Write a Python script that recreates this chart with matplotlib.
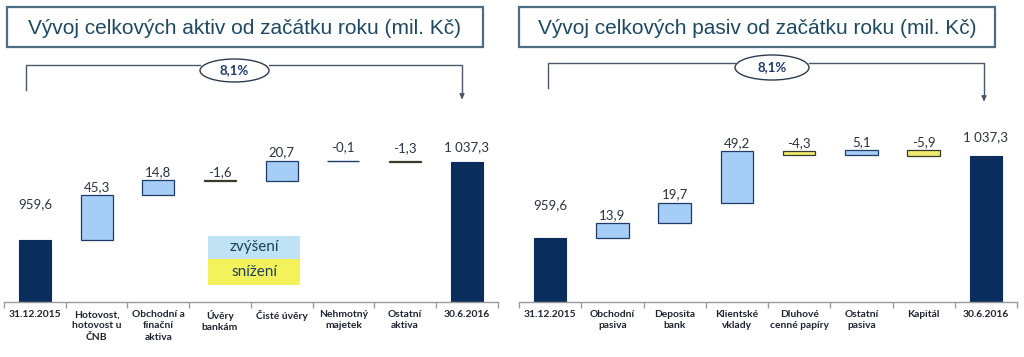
import matplotlib
matplotlib.use("Agg")
import matplotlib.pyplot as plt
from matplotlib.patches import Rectangle, Ellipse

# ---------------- data ----------------
aktiva_labels = ["31.12.2015", "Hotovost,\nhotovost u\nČNB", "Obchodní a\nfinační\naktiva",
                 "Úvěry\nbankám", "Čisté úvěry", "Nehmotný\nmajetek", "Ostatní\naktiva", "30.6.2016"]
aktiva_start = 959.6
aktiva_deltas = [45.3, 14.8, -1.6, 20.7, -0.1, -1.3]
aktiva_end = 1037.3

pasiva_labels = ["31.12.2015", "Obchodní\npasiva", "Deposita\nbank", "Klientské\nvklady",
                 "Dluhové\ncenné papíry", "Ostatní\npasiva", "Kapitál", "30.6.2016"]
pasiva_start = 959.6
pasiva_deltas = [13.9, 19.7, 49.2, -4.3, 5.1, -5.9]
pasiva_end = 1037.3

titles = ["Vývoj celkových aktiv od začátku roku (mil. Kč)",
          "Vývoj celkových pasiv od začátku roku (mil. Kč)"]
growth_label = "8,1%"
legend_labels = ["zvýšení", "snížení"]

# ---------------- style ----------------
NAVY = "#0b2d5e"
BLUE = "#a6cdf5"
YELLOW = "#ecec6e"
EDGE = "#1f3a66"
TXT = "#2a3340"
TITLE_C = "#1d4a62"
W, H = 1024, 357
TICK_FONT = ["Lato", "DejaVu Sans"]

fig = plt.figure(figsize=(W / 100, H / 100), dpi=100)


def fmt(v):
    s = f"{abs(v):,.1f}".replace(",", " ").replace(".", ",")
    return ("-" if v < 0 else "") + s


def px_axes(x0, x1, y_top, y_bot):
    return fig.add_axes([x0 / W, (H - y_bot) / H, (x1 - x0) / W, (y_bot - y_top) / H])


def waterfall(ax, labels, start, deltas, end, ylim, end_offsets):
    n = len(labels)
    xs = list(range(n))
    ax.bar(xs[0], start, width=0.52, color=NAVY, edgecolor=NAVY, linewidth=0.8)
    ax.bar(xs[-1], end, width=0.52, color=NAVY, edgecolor=NAVY, linewidth=0.8)
    cum = start
    for i, d in enumerate(deltas, start=1):
        bottom = cum if d >= 0 else cum + d
        small = abs(d) < 1.0
        ax.bar(i, abs(d), bottom=bottom, width=0.52,
               color=BLUE if d >= 0 else YELLOW,
               edgecolor=EDGE if small else ("#1f3a66" if d >= 0 else "#3a3a2a"),
               linewidth=1.0 if small else 0.9)
        top = bottom + abs(d)
        off = 8 if abs(d) > 1.5 else 13
        ax.annotate(fmt(d), (i, top), xytext=(0, off * 0.72), textcoords="offset points",
                    ha="center", va="center", fontsize=9.5, color=TXT, family=TICK_FONT)
        cum += d
    ax.annotate(fmt(start), (0, start), xytext=(0, end_offsets[0] * 0.72), textcoords="offset points",
                ha="center", va="center", fontsize=9.5, color=TXT, family=TICK_FONT)
    ax.annotate(fmt(end), (n - 1, end), xytext=(0, end_offsets[1] * 0.72), textcoords="offset points",
                ha="center", va="center", fontsize=9.5, color=TXT, family=TICK_FONT)
    ax.set_xlim(-0.5, n - 0.5)
    ax.set_ylim(*ylim)
    for s in ["left", "right", "top"]:
        ax.spines[s].set_visible(False)
    ax.spines["bottom"].set_color("#9a9a9a")
    ax.spines["bottom"].set_linewidth(1.0)
    ax.set_yticks([])
    ax.set_xticks(xs)
    ax.set_xticklabels(labels, fontsize=7.4, fontweight="bold", color="#1e2430",
                       family=TICK_FONT, linespacing=1.3, va="top")
    ax.tick_params(axis="x", which="major", length=0, pad=6)
    ax.set_xticks([x - 0.5 for x in range(n + 1)], minor=True)
    ax.tick_params(axis="x", which="minor", length=4, color="#9a9a9a", width=1.0)
    ax.patch.set_alpha(0)


axL = px_axes(4, 497.6, 120, 302)
waterfall(axL, aktiva_labels, aktiva_start, aktiva_deltas, aktiva_end,
          (898, 898 + 182 / 1.004), (36, 15))
axR = px_axes(519, 1017, 120, 302)
waterfall(axR, pasiva_labels, pasiva_start, pasiva_deltas, pasiva_end,
          (899, 899 + 182 / 1.055), (33, 19))

# ---------------- overlay decorations (figure pixel coords) ----------------
ov = fig.add_axes([0, 0, 1, 1], zorder=-1)
ov.set_xlim(0, W)
ov.set_ylim(H, 0)
ov.axis("off")

TITLE_FONT = ["Liberation Sans", "DejaVu Sans"]
for (x0, x1), t in zip([(7, 483), (519, 995)], titles):
    ov.add_patch(Rectangle((x0, 7), x1 - x0, 40, facecolor="white", edgecolor="#4f6d82", linewidth=1.6))
    ov.text((x0 + x1) / 2, 28, t, ha="center", va="center", fontsize=15, color=TITLE_C, family=TITLE_FONT)

LINE_C = "#4c5866"
brackets = [
    dict(xl=26, yl=65, ylb=90, ex=234.5, ey=70.5, ew=69, eh=23, xr=462, yb=102),
    dict(xl=548, yl=63, ylb=88, ex=772, ey=67.5, ew=74, eh=25, xr=984, yb=104),
]
for b in brackets:
    ov.plot([b["xl"], b["xl"], b["ex"] - b["ew"] / 2], [b["ylb"], b["yl"], b["yl"]], color=LINE_C, lw=1.0)
    ov.plot([b["ex"] + b["ew"] / 2, b["xr"], b["xr"]], [b["yl"], b["yl"], b["yb"] - 6], color=LINE_C, lw=1.0)
    ov.annotate("", xy=(b["xr"], b["yb"]), xytext=(b["xr"], b["yb"] - 8),
                arrowprops=dict(arrowstyle="-|>", color=LINE_C, lw=1.0, mutation_scale=7))
    ov.add_patch(Ellipse((b["ex"], b["ey"]), b["ew"], b["eh"], facecolor="white", edgecolor="#2e3b4a", lw=1.0))
    ov.text(b["ex"], b["ey"], growth_label, ha="center", va="center", fontsize=9.5,
            fontweight="bold", color="#1f3a6b", family=TICK_FONT)

# legend boxes
legend_colors = ["#bfe2f4", "#f3f25a"]
for (y0, y1), lab, col in zip([(236, 259), (259, 285)], legend_labels, legend_colors):
    ov.add_patch(Rectangle((208, y0), 92, y1 - y0, facecolor=col, edgecolor="none"))
    ov.text(254, (y0 + y1) / 2, lab, ha="center", va="center", fontsize=11, color="#1f3f5c", family=TICK_FONT)

fig.savefig("out.png", dpi=100, facecolor="white")
